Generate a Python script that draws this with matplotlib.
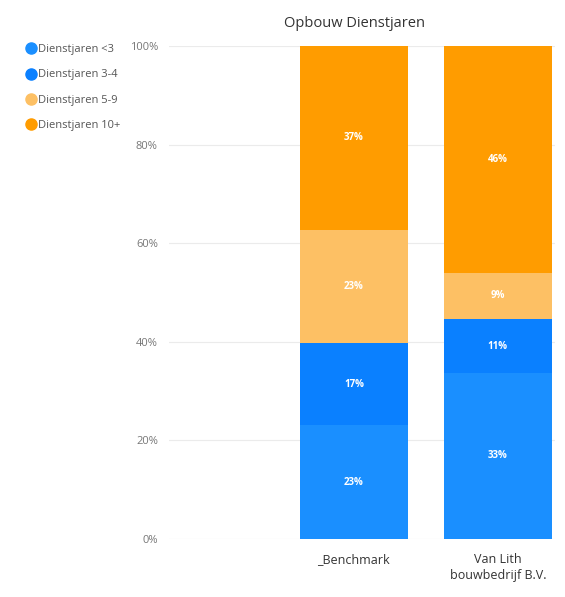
import matplotlib.pyplot as plt
import numpy as np

plt.rcParams['font.family'] = ['Open Sans', 'DejaVu Sans']

# Data (share per category)
categories = ['_Benchmark', 'Van Lith\nbouwbedrijf B.V.']
series = ['Dienstjaren <3', 'Dienstjaren 3-4', 'Dienstjaren 5-9', 'Dienstjaren 10+']
values = [
    [23.1, 33.7],   # <3
    [16.7, 10.9],   # 3-4
    [22.9, 9.4],    # 5-9
    [37.3, 46.0],   # 10+
]
labels = [
    ['23%', '33%'],
    ['17%', '11%'],
    ['23%', '9%'],
    ['37%', '46%'],
]
colors = ['#1A8FFF', '#0A80FF', '#FDC064', '#FF9C00']
yticks = [0, 20, 40, 60, 80, 100]

fig = plt.figure(figsize=(5.65, 5.97), dpi=100)
ax = fig.add_axes([0.299, 0.097, 0.683, 0.826])

x = np.arange(len(categories))
bottom = np.zeros(len(categories))
for i, name in enumerate(series):
    vals = np.array(values[i])
    ax.bar(x, vals, bottom=bottom, width=0.75, color=colors[i], label=name, zorder=2)
    for j in range(len(categories)):
        ax.text(x[j], bottom[j] + vals[j] / 2, labels[i][j], ha='center', va='center',
                color='white', fontsize=7, fontweight='bold', zorder=3)
    bottom += vals

ax.set_xlim(-1.285, 1.396)
ax.set_ylim(0, 100)
ax.set_yticks(yticks)
ax.set_yticklabels([f'{t}%' for t in yticks], color='#777777', fontsize=8)
ax.set_xticks(x)
ax.set_xticklabels(categories, fontsize=9, color='#333333', linespacing=1.3)
ax.tick_params(axis='both', length=0, pad=8)
ax.tick_params(axis='x', pad=10)
ax.grid(axis='y', color='#EBEBEB', linewidth=0.8, zorder=0)
for s in ax.spines.values():
    s.set_visible(False)

ax.set_title('Opbouw Dienstjaren', fontsize=10.5, color='#333333', pad=14, x=0.48)

# legend top left
handles = [plt.Line2D([], [], marker='o', linestyle='', markersize=8, color=c) for c in colors]
fig.legend(handles, series, loc='upper left', bbox_to_anchor=(0.025, 0.943), frameon=False,
           fontsize=8, labelcolor='#555555', handletextpad=0.05, labelspacing=1.3,
           handlelength=1.2)

fig.savefig('out.png', dpi=100, facecolor='white')
